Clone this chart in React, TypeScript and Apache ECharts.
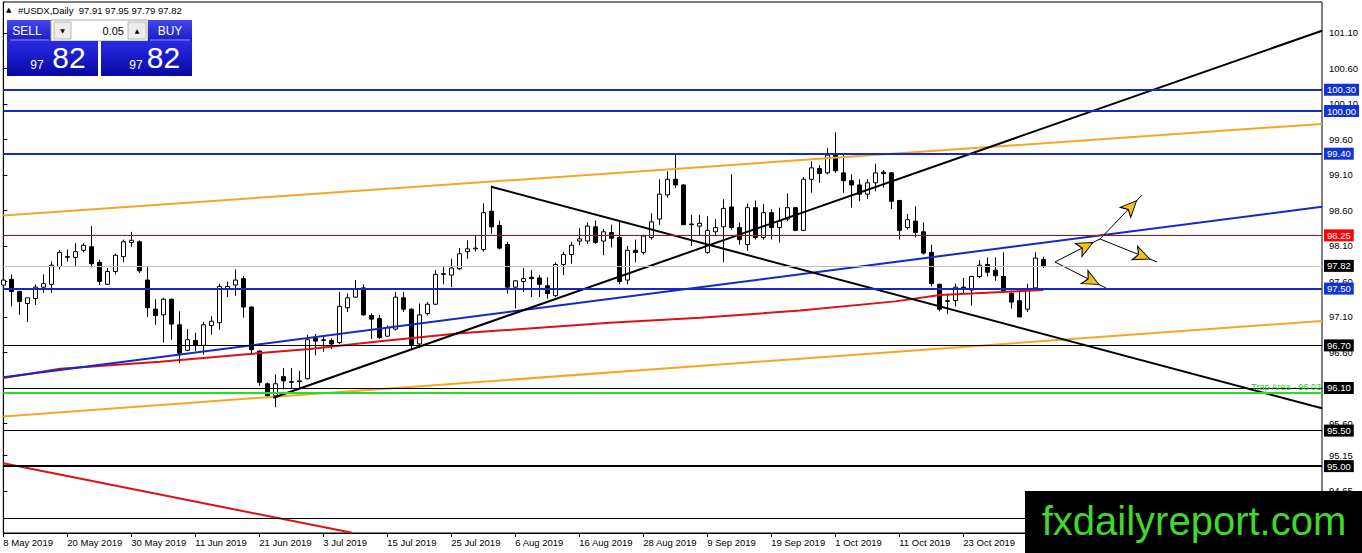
import React, { useEffect, useRef } from "react";
import * as echarts from "echarts";

// ---------- data ----------
const tickLabels = [
  "8 May 2019", "20 May 2019", "30 May 2019", "11 Jun 2019", "21 Jun 2019", "3 Jul 2019",
  "15 Jul 2019", "25 Jul 2019", "6 Aug 2019", "16 Aug 2019", "28 Aug 2019", "9 Sep 2019",
  "19 Sep 2019", "1 Oct 2019", "11 Oct 2019", "23 Oct 2019",
];

const yTicks = [101.1, 100.6, 100.1, 99.6, 99.1, 98.6, 98.1, 97.6, 97.1, 96.6, 96.1, 95.6, 95.15, 94.65];

const opens = [
  97.55, 97.63, 97.46, 97.29, 97.36, 97.52, 97.56, 97.81, 97.94, 97.94,
  98.04, 98.09, 97.87, 97.56, 97.74, 97.95, 98.15, 98.16, 97.62, 97.21,
  97.13, 97.35, 96.99, 96.63, 96.77, 96.70, 96.98, 97.02, 97.50, 97.55,
  97.64, 97.24, 96.62, 96.16, 95.99, 96.26, 96.18, 96.19, 96.23, 96.80,
  96.77, 96.77, 96.74, 97.23, 97.38, 97.51, 97.12, 97.08, 96.83, 96.93,
  97.37, 97.21, 96.72, 97.15, 97.28, 97.70, 97.69, 97.78, 98.02, 98.06,
  98.05, 98.59, 98.39, 98.12, 97.52, 97.60, 97.66, 97.65, 97.54, 97.40,
  97.84, 97.98, 98.17, 98.17, 98.37, 98.17, 98.29, 98.22, 97.62, 98.04,
  98.01, 98.22, 98.48, 98.82, 99.04, 98.96, 98.40, 98.38, 98.01, 98.30,
  98.37, 98.65, 98.36, 98.12, 98.64, 98.22, 98.57, 98.36, 98.48, 98.64,
  98.32, 99.04, 99.19, 99.13, 99.40, 99.13, 99.02, 98.96, 98.83, 98.99,
  99.14, 99.13, 98.74, 98.36, 98.45, 98.30, 98.01, 97.56, 97.32, 97.33,
  97.52, 97.48, 97.67, 97.84, 97.76, 97.67, 97.43, 97.33, 97.21, 97.51,
  97.91,
];
const highs = [
  97.68, 97.70, 97.47, 97.37, 97.56, 97.70, 97.88, 98.04, 98.05, 98.14,
  98.14, 98.38, 97.91, 97.79, 97.99, 98.19, 98.30, 98.18, 97.82, 97.35,
  97.37, 97.36, 97.18, 96.93, 96.88, 97.03, 97.11, 97.57, 97.60, 97.77,
  97.68, 97.25, 96.63, 96.18, 96.29, 96.38, 96.38, 96.34, 96.85, 96.86,
  96.82, 96.80, 97.45, 97.43, 97.62, 97.56, 97.15, 97.13, 96.98, 97.45,
  97.45, 97.22, 97.29, 97.31, 97.76, 97.82, 97.92, 98.07, 98.18, 98.24,
  98.70, 98.95, 98.46, 98.16, 97.62, 97.79, 97.76, 97.69, 97.66, 97.87,
  98.02, 98.16, 98.35, 98.43, 98.46, 98.34, 98.40, 98.44, 98.10, 98.19,
  98.26, 98.56, 99.04, 99.15, 99.39, 98.97, 98.54, 98.54, 98.52, 98.48,
  98.76, 99.11, 98.43, 98.70, 98.74, 98.69, 98.62, 98.64, 98.84, 98.65,
  99.07, 99.29, 99.24, 99.48, 99.70, 99.39, 99.11, 99.04, 99.04, 99.26,
  99.17, 99.14, 98.75, 98.55, 98.66, 98.43, 98.12, 97.57, 97.42, 97.57,
  97.65, 97.68, 97.90, 97.94, 97.94, 98.01, 97.47, 97.47, 97.57, 98.01,
  97.95,
];
const lows = [
  97.42, 97.25, 97.13, 97.03, 97.27, 97.44, 97.44, 97.77, 97.88, 97.82,
  98.01, 97.80, 97.55, 97.55, 97.70, 97.87, 98.09, 97.72, 97.10, 96.99,
  96.74, 96.78, 96.45, 96.62, 96.62, 96.57, 96.85, 96.92, 97.38, 97.40,
  97.09, 96.58, 96.13, 95.98, 95.83, 96.08, 96.10, 96.10, 96.22, 96.56,
  96.61, 96.65, 96.72, 97.17, 97.37, 97.12, 96.79, 96.79, 96.82, 96.91,
  97.17, 96.65, 96.66, 97.12, 97.27, 97.56, 97.52, 97.76, 97.92, 98.02,
  98.02, 98.27, 98.05, 97.43, 97.22, 97.45, 97.38, 97.38, 97.36, 97.38,
  97.69, 97.85, 98.11, 98.13, 98.13, 97.97, 98.08, 97.56, 97.56, 97.87,
  97.98, 98.19, 98.40, 98.78, 98.92, 98.40, 98.10, 98.24, 97.99, 98.24,
  97.87, 98.33, 98.12, 98.03, 98.19, 98.19, 98.19, 98.15, 98.45, 98.31,
  98.31, 98.85, 98.99, 99.11, 99.13, 98.85, 98.64, 98.73, 98.76, 98.87,
  98.92, 98.62, 98.19, 98.33, 98.22, 97.98, 97.53, 97.18, 97.14, 97.25,
  97.42, 97.26, 97.65, 97.67, 97.61, 97.47, 97.22, 97.10, 97.17, 97.50,
  97.79,
];
const closes = [
  97.62, 97.46, 97.32, 97.37, 97.52, 97.57, 97.83, 98.01, 97.95, 98.02,
  98.11, 97.85, 97.60, 97.74, 97.97, 98.16, 98.18, 97.75, 97.23, 97.12,
  97.35, 97.00, 96.59, 96.78, 96.70, 96.99, 97.04, 97.53, 97.53, 97.62,
  97.24, 96.64, 96.18, 95.99, 96.16, 96.20, 96.19, 96.20, 96.78, 96.76,
  96.78, 96.72, 97.25, 97.37, 97.50, 97.13, 97.07, 96.81, 96.95, 97.38,
  97.21, 96.71, 97.13, 97.28, 97.70, 97.71, 97.79, 97.99, 98.06, 98.07,
  98.57, 98.37, 98.07, 97.52, 97.61, 97.64, 97.64, 97.56, 97.43, 97.84,
  97.98, 98.11, 98.20, 98.38, 98.15, 98.30, 98.21, 97.60, 98.04, 98.01,
  98.24, 98.44, 98.83, 99.04, 98.96, 98.40, 98.41, 98.42, 98.32, 98.36,
  98.63, 98.36, 98.19, 98.64, 98.22, 98.57, 98.36, 98.45, 98.64, 98.32,
  99.04, 99.20, 99.12, 99.38, 99.16, 99.02, 98.96, 98.83, 98.99, 99.13,
  99.12, 98.73, 98.32, 98.47, 98.29, 98.00, 97.57, 97.21, 97.33, 97.52,
  97.49, 97.67, 97.83, 97.73, 97.68, 97.47, 97.31, 97.10, 97.50, 97.93,
  97.82,
];

// moving average (red) read at a few bars: [bar, price]
const maPoints = [
  [0, 96.24], [7.1, 96.37], [19.6, 96.47], [30.8, 96.58], [38.3, 96.65], [47.1, 96.76],
  [57.1, 96.87], [75.8, 97.02], [87.1, 97.09], [99.6, 97.19], [111.5, 97.32], [117.1, 97.41],
  [130, 97.48],
];

// horizontal levels
const blueLevels = [100.3, 100.0, 99.4, 97.5];
const blackLevels = [96.7, 96.1, 95.5, 95.0];
const thinBlackLevel = 94.27;
const redLevel = 98.25;
const bidLevel = 97.82;
const trapLevel = 96.03;

// trend lines: [bar, price] end points
const upperChannel = [[0, 98.53], [164.84, 99.82]];
const lowerChannel = [[0, 95.7], [164.84, 97.044]];
const blueTrend = [[0, 96.25], [164.84, 98.654]];
const blackRising = [[33.75, 95.963], [164.84, 101.132]];
const blackFalling = [[60.96, 98.935], [164.84, 95.814]];
const redFalling = [[0, 95.04], [43.6, 94.06]];

// projection arrows
const arrowSegments = [
  [[131.46, 97.875], [137.09, 98.199]],
  [[137.09, 98.199], [142.35, 98.818]],
  [[137.09, 98.199], [144.23, 97.875]],
  [[131.46, 97.875], [137.84, 97.508]],
];

// ---------- layout ----------
const W = 1362;
const H = 553;
const GRID = { left: 3.3, right: 40, top: 2, bottom: 20 };
const X_MAX = 164.84;
const Y_MIN = 94.0577;
const Y_MAX = 101.5366;
const FONT = "Liberation Sans, Arial, sans-serif";
const BLUE = "#1428c8";

export default function App() {
  const ref = useRef<HTMLDivElement>(null);

  useEffect(() => {
    document.body.style.margin = "0";
    const chart = echarts.init(ref.current!, null, { renderer: "svg" });

    const pxPerX = (W - GRID.left - GRID.right) / X_MAX;
    const pxPerY = (H - GRID.top - GRID.bottom) / (Y_MAX - Y_MIN);
    const HEAD_LEN = 16;

    const heads = arrowSegments.map(([[x1, y1], [x2, y2]]) => {
      const dx = (x2 - x1) * pxPerX;
      const dy = (y2 - y1) * pxPerY;
      const len = Math.hypot(dx, dy);
      const ux = dx / len;
      const uy = dy / len;
      const back = HEAD_LEN / 2;
      return {
        value: [x2 - (ux * back) / pxPerX, y2 - (uy * back) / pxPerY],
        symbolRotate: (Math.atan2(dy, dx) * 180) / Math.PI - 90,
      };
    });

    const tag = (bg: string) => ({
      show: true,
      position: "end",
      distance: 2,
      formatter: (p: any) => Number(p.value).toFixed(2),
      backgroundColor: bg,
      color: "#fff",
      padding: [1, 3, 0, 3],
      fontSize: 9.5,
      lineHeight: 11,
      fontFamily: FONT,
    });

    const markData: any[] = [
      ...blueLevels.map((v) => ({ yAxis: v, lineStyle: { color: BLUE, width: 2, type: "solid" }, label: tag("#1232d6") })),
      { yAxis: redLevel, lineStyle: { color: "#cc0000", width: 1, type: "solid" }, label: tag("#ff0000") },
      { yAxis: bidLevel, lineStyle: { color: "#c0c0c0", width: 1, type: "solid" }, label: tag("#000") },
      ...blackLevels.map((v) => ({
        yAxis: v,
        lineStyle: { color: "#000", width: v === 95.0 ? 2 : 1, type: "solid" },
        label: tag("#000"),
      })),
      { yAxis: thinBlackLevel, lineStyle: { color: "#000", width: 1, type: "solid" }, label: { show: false } },
      {
        yAxis: trapLevel,
        lineStyle: { color: "#22e022", width: 2, type: "solid" },
        label: {
          show: true,
          position: "insideEndTop",
          distance: 1,
          formatter: `Trap Area - ${trapLevel.toFixed(2)}`,
          color: "#22d022",
          fontSize: 9,
          fontFamily: FONT,
        },
      },
    ];

    const seg = (data: number[][], color: string, width: number, z = 3) => ({
      type: "line",
      data,
      symbol: "none",
      showSymbol: false,
      silent: true,
      clip: true,
      z,
      lineStyle: { color, width },
    });

    const last = opens.length - 1;
    const btnGrad = new echarts.graphic.LinearGradient(0, 0, 0, 1, [
      { offset: 0, color: "#4646ee" },
      { offset: 1, color: "#1a1ac8" },
    ]);
    const boxGrad = () =>
      new echarts.graphic.LinearGradient(0, 0, 0, 1, [
        { offset: 0, color: "#2a2ae4" },
        { offset: 1, color: "#0808a6" },
      ]);

    const option: any = {
      animation: false,
      backgroundColor: "#fff",
      grid: { ...GRID, show: true, borderColor: "#000", borderWidth: 1, backgroundColor: "#fff" },
      xAxis: {
        type: "value",
        min: 0,
        max: X_MAX,
        interval: 8,
        axisLine: { show: true, lineStyle: { color: "#000", width: 1 } },
        axisTick: { show: true, length: 4, lineStyle: { color: "#000" } },
        axisLabel: {
          formatter: (v: number) => {
            const k = Math.round(v / 8);
            return Math.abs(v - k * 8) < 1e-6 && tickLabels[k] ? tickLabels[k] : "";
          },
          align: "left",
          color: "#000",
          fontSize: 9.5,
          fontFamily: FONT,
          margin: 4,
        },
        splitLine: { show: false },
      },
      yAxis: {
        type: "value",
        position: "right",
        min: Y_MIN,
        max: Y_MAX,
        axisLine: { show: true, lineStyle: { color: "#000", width: 1 } },
        axisTick: { show: true, length: 4, customValues: yTicks, lineStyle: { color: "#000" } },
        axisLabel: {
          customValues: yTicks,
          formatter: (v: number) => v.toFixed(2),
          color: "#000",
          fontSize: 9.5,
          fontFamily: FONT,
          margin: 7,
        },
        splitLine: { show: false },
      },
      series: [
        {
          type: "candlestick",
          data: opens.map((o, i) => [i, o, closes[i], lows[i], highs[i]]),
          encode: { x: 0, y: [1, 2, 3, 4] },
          barWidth: 4,
          clip: true,
          z: 2,
          itemStyle: {
            color: "#ffffff",
            color0: "#000000",
            borderColor: "#000000",
            borderColor0: "#000000",
            borderWidth: 1,
          },
          markLine: {
            symbol: ["none", "none"],
            silent: true,
            animation: false,
            data: markData,
          },
        },
        seg(maPoints, "#dd1111", 2),
        seg(upperChannel, "#f5a623", 2),
        seg(lowerChannel, "#f5a623", 2),
        seg(blueTrend, "#1428c8", 2),
        seg(blackRising, "#000", 2),
        seg(blackFalling, "#000", 2),
        seg(redFalling, "#dd1111", 2),
        ...arrowSegments.map((s) => seg(s, "#000", 1, 4)),
        {
          type: "scatter",
          data: heads,
          symbol: "arrow",
          symbolSize: [11, HEAD_LEN],
          silent: true,
          z: 5,
          itemStyle: { color: "#f2c21a", borderColor: "#000", borderWidth: 1, opacity: 1 },
        },
      ],
      graphic: [
        { type: "text", x: 6, y: 10, style: { text: "▲", fontSize: 7, fill: "#000", fontFamily: "DejaVu Sans", verticalAlign: "middle" } },
        {
          type: "text",
          x: 18,
          y: 10,
          style: {
            text: `#USDX,Daily  ${opens[last].toFixed(2)} ${highs[last].toFixed(2)} ${lows[last].toFixed(2)} ${closes[last].toFixed(2)}`,
            fontSize: 9.5,
            fontFamily: FONT,
            fill: "#000",
            verticalAlign: "middle",
          },
        },
        // trade panel
        { type: "rect", shape: { x: 7, y: 20, width: 44, height: 21 }, style: { fill: btnGrad } },
        { type: "line", shape: { x1: 10, y1: 40, x2: 49, y2: 40 }, style: { stroke: "#9a9aff", lineWidth: 1 } },
        { type: "text", x: 27, y: 30.5, style: { text: "SELL", fontSize: 12, fontFamily: FONT, fill: "#fff", align: "center", verticalAlign: "middle" } },
        { type: "rect", shape: { x: 51, y: 20, width: 97, height: 21 }, style: { fill: "#fff", stroke: "#a8a8a8", lineWidth: 1 } },
        { type: "rect", shape: { x: 54, y: 22, width: 17, height: 17 }, style: { fill: "#ededed", stroke: "#b8b8b8", lineWidth: 1 } },
        { type: "text", x: 62.5, y: 30.5, style: { text: "▼", fontSize: 6, fontFamily: "DejaVu Sans", fill: "#000", align: "center", verticalAlign: "middle" } },
        { type: "text", x: 124, y: 30.5, style: { text: "0.05", fontSize: 11, fontFamily: FONT, fill: "#000", align: "right", verticalAlign: "middle" } },
        { type: "rect", shape: { x: 128, y: 22, width: 18, height: 17 }, style: { fill: "#ededed", stroke: "#b8b8b8", lineWidth: 1 } },
        { type: "text", x: 137, y: 30.5, style: { text: "▲", fontSize: 6, fontFamily: "DejaVu Sans", fill: "#000", align: "center", verticalAlign: "middle" } },
        { type: "rect", shape: { x: 148, y: 20, width: 44, height: 21 }, style: { fill: btnGrad } },
        { type: "line", shape: { x1: 150, y1: 40, x2: 190, y2: 40 }, style: { stroke: "#9a9aff", lineWidth: 1 } },
        { type: "text", x: 170, y: 30.5, style: { text: "BUY", fontSize: 12, fontFamily: FONT, fill: "#fff", align: "center", verticalAlign: "middle" } },
        { type: "rect", shape: { x: 7, y: 41, width: 91, height: 35 }, style: { fill: boxGrad() } },
        { type: "rect", shape: { x: 101, y: 41, width: 91, height: 35 }, style: { fill: boxGrad() } },
        { type: "text", x: 37, y: 64.5, style: { text: "97", fontSize: 12, fontFamily: FONT, fill: "#fff", align: "center", verticalAlign: "middle" } },
        { type: "text", x: 69, y: 57.5, style: { text: "82", fontSize: 30, fontFamily: FONT, fill: "#fff", align: "center", verticalAlign: "middle" } },
        { type: "text", x: 136, y: 64.5, style: { text: "97", fontSize: 12, fontFamily: FONT, fill: "#fff", align: "center", verticalAlign: "middle" } },
        { type: "text", x: 163.5, y: 57.5, style: { text: "82", fontSize: 30, fontFamily: FONT, fill: "#fff", align: "center", verticalAlign: "middle" } },
        // watermark
        { type: "rect", z: 100, shape: { x: 1025, y: 491, width: 337, height: 62 }, style: { fill: "#000" } },
        {
          type: "text",
          z: 101,
          x: 1194,
          y: 521,
          style: { text: "fxdailyreport.com", fontSize: 40, fontFamily: FONT, fill: "#41d82c", align: "center", verticalAlign: "middle" },
        },
      ],
    };

    chart.setOption(option);
    return () => chart.dispose();
  }, []);

  return (
    <div
      ref={ref}
      style={{ position: "fixed", left: 0, top: 0, width: W, height: H, background: "#fff" }}
    />
  );
}
